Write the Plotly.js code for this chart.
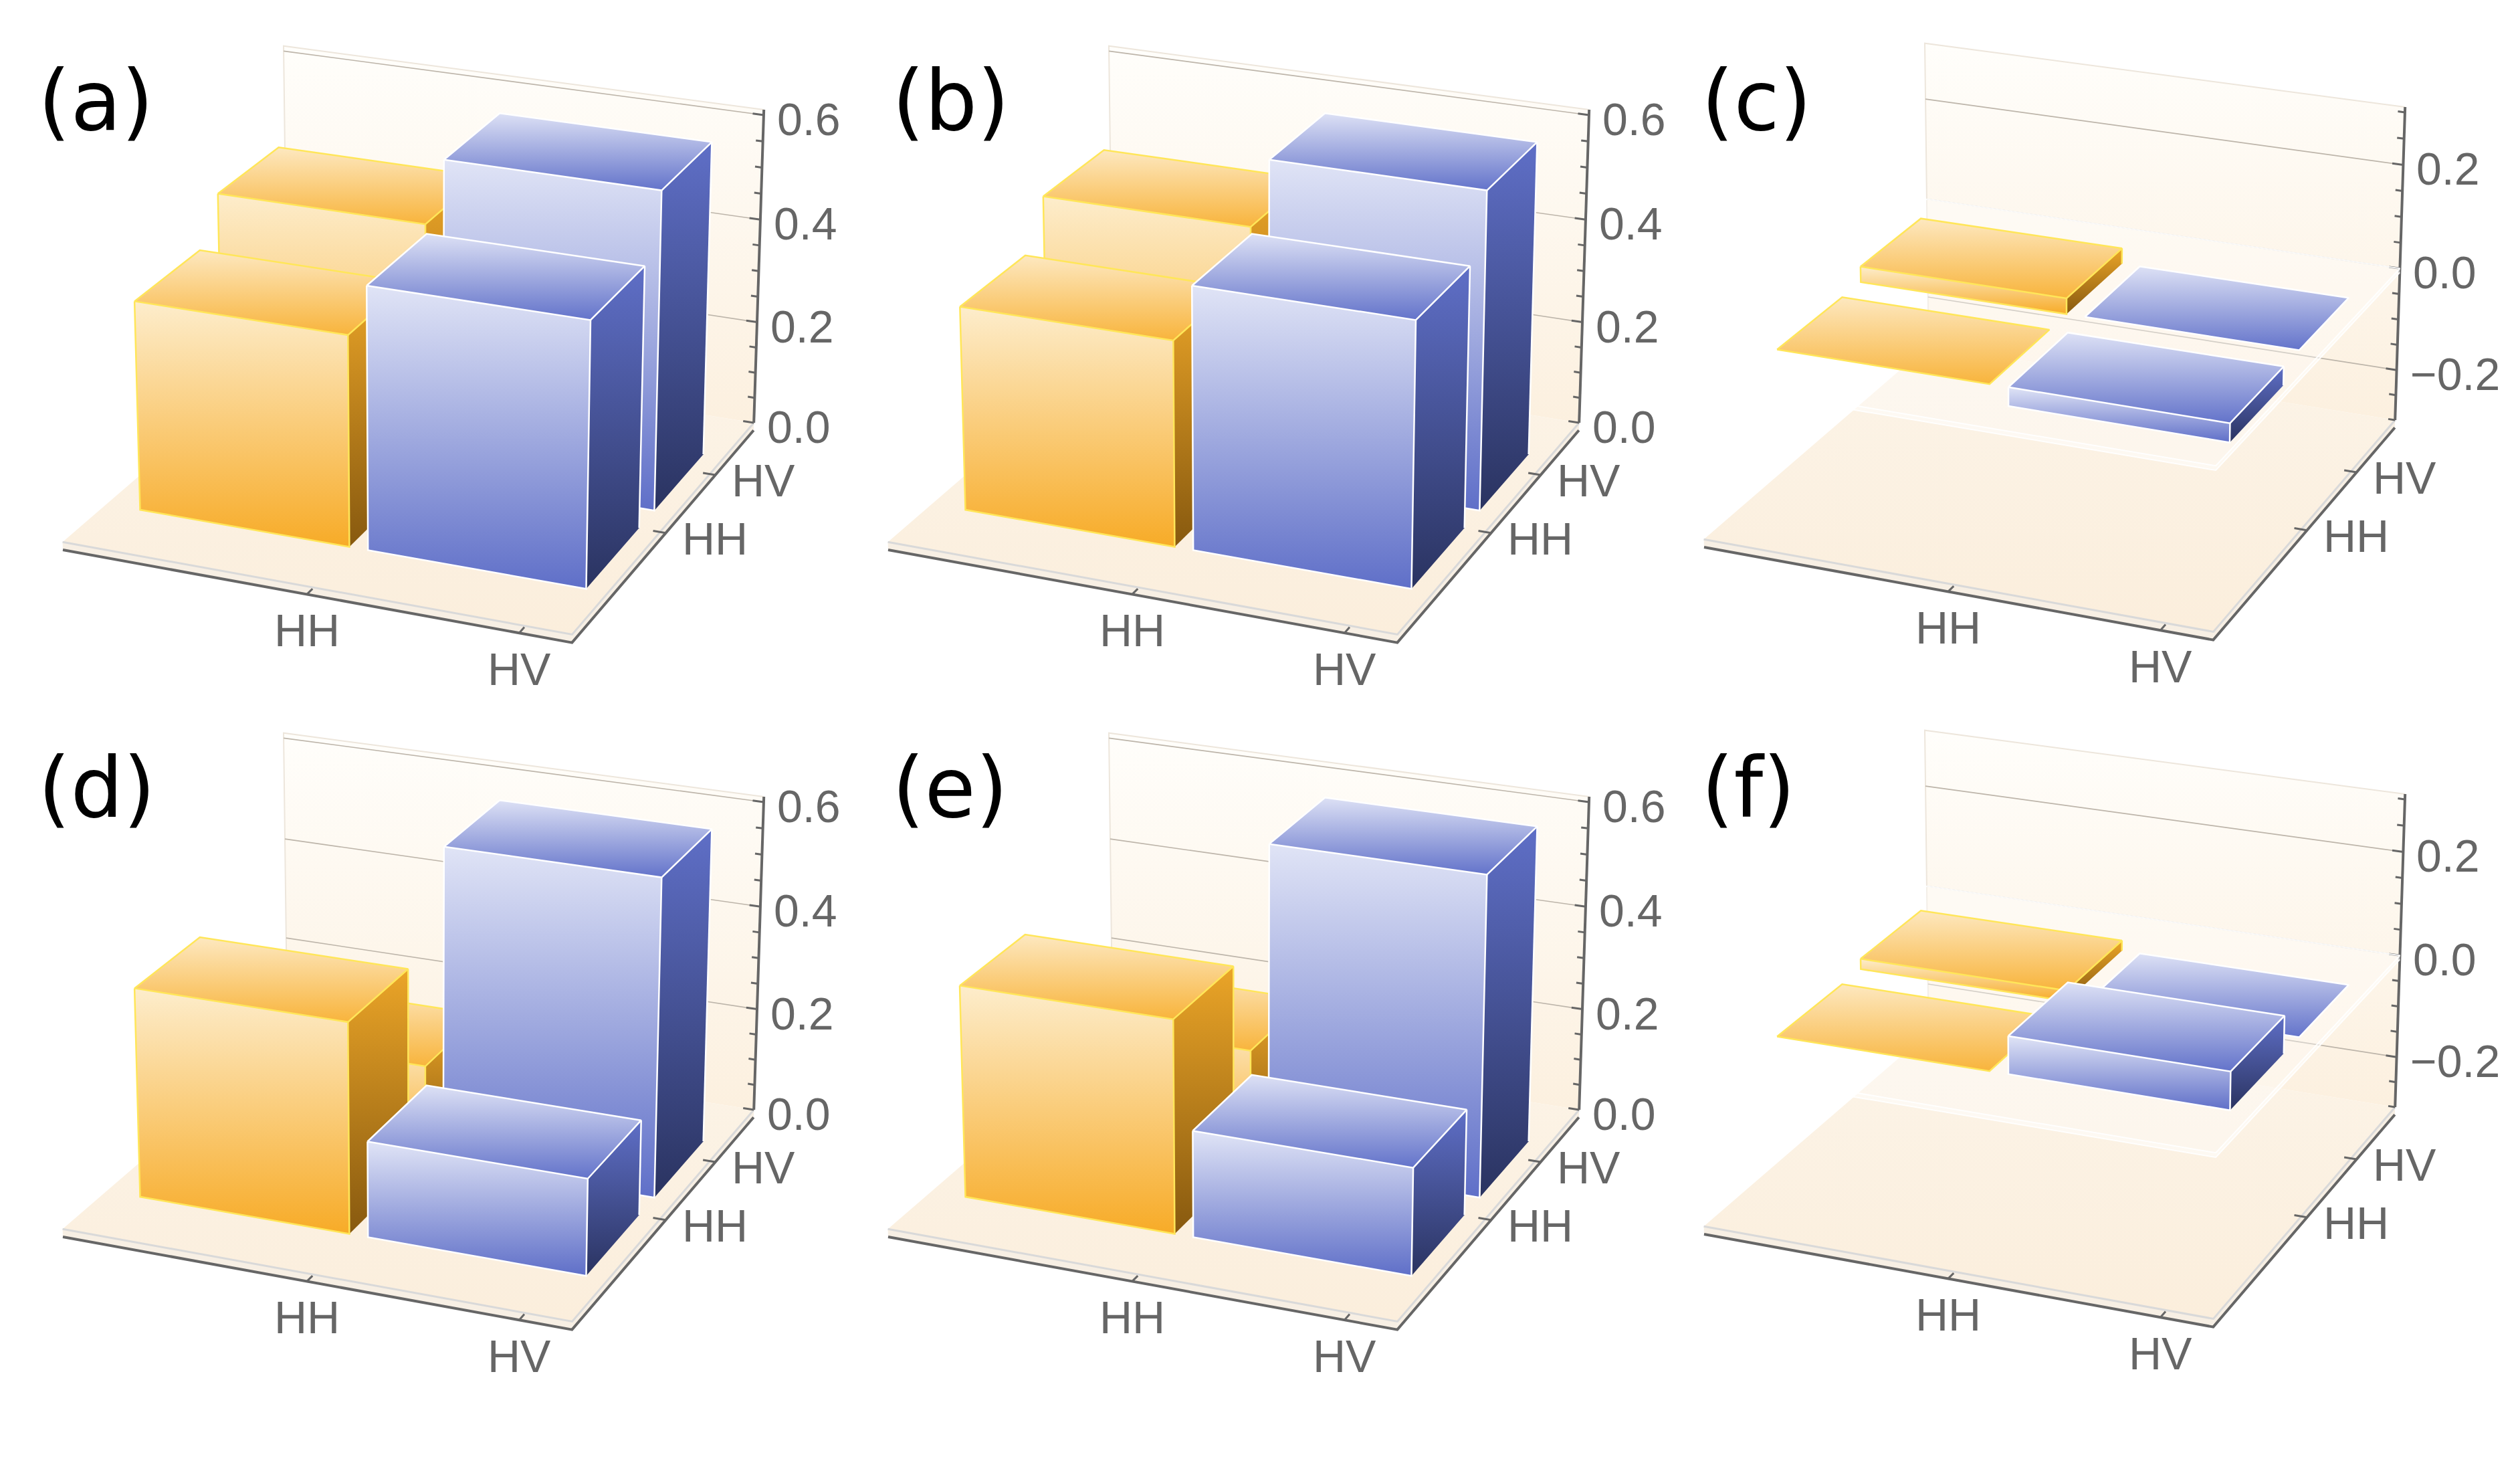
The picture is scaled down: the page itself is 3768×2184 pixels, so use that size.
<!DOCTYPE html>
<html>
<head>
<meta charset="utf-8">
<script src="https://cdn.plot.ly/plotly-3.0.1.min.js"></script>
<style>
  html, body { margin: 0; padding: 0; background: #ffffff; }
  #chart { width: 3768px; height: 2184px; }
</style>
</head>
<body>
<div id="chart"></div>
<script>
// basis labels on both floor axes
const basis = ['HH', 'HV'];
const basisPos = [1, 2];
// where the basis tick marks sit along the floor edges (as in the original figure)
const xTickPos = [1.45, 2.335];
const yTickPos = [1.47, 2.25];
const panelLabels = ['(a)', '(b)', '(c)', '(d)', '(e)', '(f)'];

// matrix elements [row][column]; row = depth axis (front HH, back HV), column = width axis
const realA = [[0.395, 0.49], [0.475, 0.60]];
const realB = [[0.385, 0.49], [0.47, 0.60]];
const imagC = [[0.00, -0.035], [0.03, 0.00]];
const realD = [[0.395, 0.18], [0.18, 0.60]];
const realE = [[0.40, 0.20], [0.21, 0.605]];
const imagF = [[0.00, 0.07], [0.02, 0.00]];

const realTicks = [0, 0.2, 0.4, 0.6];
const realTickText = ['0.0', '0.2', '0.4', '0.6'];
const imagTicks = [-0.2, 0, 0.2];
const imagTickText = ['\u22120.2', '0.0', '0.2'];

const panels = [
  { m: realA, imag: false }, { m: realB, imag: false }, { m: imagC, imag: true },
  { m: realD, imag: false }, { m: realE, imag: false }, { m: imagF, imag: true }
];

// --- view / geometry (Mathematica-like 3D box, drawn by hand projection) ---
const deg = Math.PI / 180;
const view = { phi: -67.5 * deg, theta: 22.1 * deg, dist: 8, focal: 6400 };
const boxRatio = { x: 1, y: 1.01, z: 0.648 };
const xRange = [0.39, 2.55], yRange = [0.115, 2.885];
const realRange = [0, 0.61], imagRange = [-0.3, 0.31];
const barW = 0.92, barD = 0.77;
const slab = 0.016;
// pixel where the front-left bottom corner of each floor lands
const origins = [[94, 822], [1328, 822], [2548, 818], [94, 1849], [1328, 1849], [2548, 1845]];

// gradient stops are [bottom, top] on screen
const palettes = [
  { front: ['#f7ab27', '#fdedcc'], top: ['#f8b43c', '#fde8c0'], side: ['#87590f', '#eba528'], edge: '#ffe659' },
  { front: ['#5f6fc8', '#e0e4f6'], top: ['#6373ca', '#dde1f5'], side: ['#2a3360', '#5f6fc7'], edge: '#ffffff' }
];

const data = [];
const annotations = [];

function dot(a, b) { return a[0] * b[0] + a[1] * b[1] + a[2] * b[2]; }

function makeProjector(zRange, origin) {
  const cp = Math.cos(view.phi), sp = Math.sin(view.phi);
  const ct = Math.cos(view.theta), st = Math.sin(view.theta);
  const d = [ct * cp, ct * sp, st], rt = [-sp, cp, 0], up = [-st * cp, -st * sp, ct];
  function world(x, y, z) {
    return [
      ((x - xRange[0]) / (xRange[1] - xRange[0]) - 0.5) * boxRatio.x,
      ((y - yRange[0]) / (yRange[1] - yRange[0]) - 0.5) * boxRatio.y,
      ((z - zRange[0]) / (zRange[1] - zRange[0]) - 0.5) * boxRatio.z
    ];
  }
  function raw(P) {
    const depth = view.dist - dot(P, d);
    return [view.focal * dot(P, rt) / depth, -view.focal * dot(P, up) / depth, depth];
  }
  const ref = raw([-boxRatio.x / 2, -boxRatio.y / 2, -boxRatio.z / 2 - slab]);
  function projW(P) {
    const r = raw(P);
    return [origin[0] + r[0] - ref[0], origin[1] + r[1] - ref[1], r[2]];
  }
  return { world, projW, proj: (x, y, z) => projW(world(x, y, z)) };
}

function face(pts, fill) {
  const tr = {
    type: 'scatter', mode: 'lines', hoverinfo: 'skip', showlegend: false,
    x: pts.map(p => p[0]).concat([pts[0][0]]),
    y: pts.map(p => p[1]).concat([pts[0][1]]),
    fill: 'toself', line: { width: 0, color: 'rgba(0,0,0,0)' }
  };
  if (Array.isArray(fill)) tr.fillgradient = { type: 'vertical', colorscale: [[0, fill[0]], [1, fill[1]]] };
  else tr.fillcolor = fill;
  data.push(tr);
}

function lines(segs, color, width) {
  const x = [], y = [];
  segs.forEach(s => { s.forEach(p => { x.push(p[0]); y.push(p[1]); }); x.push(null); y.push(null); });
  data.push({ type: 'scatter', mode: 'lines', x, y, hoverinfo: 'skip', showlegend: false,
    connectgaps: false, line: { color, width } });
}

function label(p, text, xanchor, size, color) {
  annotations.push({ x: p[0], y: p[1], xref: 'x', yref: 'y', text, showarrow: false,
    xanchor, yanchor: 'middle',
    font: { family: 'Liberation Sans, Arial, sans-serif', size, color } });
}

panels.forEach((panel, k) => {
  const zr = panel.imag ? imagRange : realRange;
  const ticks = panel.imag ? imagTicks : realTicks;
  const tickText = panel.imag ? imagTickText : realTickText;
  const P = makeProjector(zr, origins[k]);
  const [x0, x1] = xRange, [y0, y1] = yRange, [z0, z1] = zr;
  const W = (x, y, z) => P.world(x, y, z);
  const down = (w) => [w[0], w[1], w[2] - slab];

  // back wall
  face([P.proj(x0, y1, z0), P.proj(x1, y1, z0), P.proj(x1, y1, z1), P.proj(x0, y1, z1)], ['#fcf0df', '#fffefb']);
  // floor top
  face([P.proj(x0, y0, z0), P.proj(x1, y0, z0), P.proj(x1, y1, z0), P.proj(x0, y1, z0)], ['#fbeedc', '#fcf4e8']);
  // floor slab sides
  face([P.projW(down(W(x0, y0, z0))), P.projW(down(W(x1, y0, z0))), P.proj(x1, y0, z0), P.proj(x0, y0, z0)], '#f7efe4');
  face([P.projW(down(W(x1, y0, z0))), P.projW(down(W(x1, y1, z0))), P.proj(x1, y1, z0), P.proj(x1, y0, z0)], '#f7efe4');
  lines([[P.proj(x0, y0, z0), P.proj(x1, y0, z0), P.proj(x1, y1, z0)]], '#d9d9d9', 3);
  // wall outline and grid lines
  lines([[P.proj(x0, y1, z0), P.proj(x0, y1, z1), P.proj(x1, y1, z1)]], '#ede6dc', 2);
  lines(ticks.filter(t => t > z0 + 0.01).map(t => [P.proj(x0, y1, t), P.proj(x1, y1, t)]), '#bdb5aa', 1.6);

  // axes
  const axisCol = '#666666';
  lines([[P.projW(down(W(x0, y0, z0))), P.projW(down(W(x1, y0, z0))), P.projW(down(W(x1, y1, z0)))]], axisCol, 4);
  lines([[P.proj(x1, y1, z0), P.proj(x1, y1, z1)]], axisCol, 4);
  const tk = [];
  basis.forEach((name, i) => {
    const a = down(W(xTickPos[i], y0, z0));
    const pa = P.projW(a);
    tk.push([pa, P.projW([a[0], a[1] + 0.025, a[2]])]);
    label([pa[0], pa[1] + 54], name, 'center', 68, '#666666');
    const b = down(W(x1, yTickPos[i], z0));
    const pb = P.projW(b);
    tk.push([pb, P.projW([b[0] - 0.025, b[1], b[2]])]);
    label([pb[0] + 22, pb[1] + 8], name, 'left', 68, '#666666');
  });
  for (let t = Math.ceil(z0 / 0.05 - 1e-6); t * 0.05 <= z1 + 1e-6; t++) {
    const v = t * 0.05;
    const major = Math.abs(v / 0.2 - Math.round(v / 0.2)) < 1e-6;
    const a = W(x1, y1, v);
    tk.push([P.projW(a), P.projW([a[0] - (major ? 0.022 : 0.014), a[1], a[2]])]);
  }
  lines(tk, axisCol, 3);
  ticks.forEach((t, i) => {
    const a = P.proj(x1, y1, t);
    label([a[0] + 18, a[1] + 6], tickText[i], 'left', 68, '#666666');
  });

  // translucent zero plane for the imaginary parts
  if (panel.imag) {
    const pz = 0.008;
    face([P.proj(x0, y0, -pz), P.proj(x1, y0, -pz), P.proj(x1, y0, 0), P.proj(x0, y0, 0)], 'rgba(255,255,255,0.55)');
    face([P.proj(x1, y0, -pz), P.proj(x1, y1, -pz), P.proj(x1, y1, 0), P.proj(x1, y0, 0)], 'rgba(255,255,255,0.55)');
    face([P.proj(x0, y0, 0), P.proj(x1, y0, 0), P.proj(x1, y1, 0), P.proj(x0, y1, 0)], 'rgba(255,255,255,0.35)');
    lines([[P.proj(x0, y1, 0), P.proj(x0, y0, 0), P.proj(x1, y0, 0), P.proj(x1, y1, 0), P.proj(x0, y1, 0)],
           [P.proj(x0, y0, -pz), P.proj(x1, y0, -pz), P.proj(x1, y1, -pz)]], 'rgba(255,255,255,0.9)', 2);
  }

  // bars, farthest first
  const bars = [];
  for (let r = 0; r < 2; r++) for (let c = 0; c < 2; c++) {
    const v = panel.m[r][c];
    const cx = basisPos[c], cy = basisPos[r];
    bars.push({ c, v, cx, cy, depth: P.proj(cx, cy, 0)[2] });
  }
  bars.sort((a, b) => b.depth - a.depth);
  bars.forEach(b => {
    const pal = palettes[b.c];
    const bx0 = b.cx - barW / 2, bx1 = b.cx + barW / 2;
    const by0 = b.cy - barD / 2, by1 = b.cy + barD / 2;
    const zb = Math.min(0, b.v), ztop = Math.max(0, b.v);
    const q = (x, y, z) => P.proj(x, y, z);
    const F = [q(bx0, by0, zb), q(bx1, by0, zb), q(bx1, by0, ztop), q(bx0, by0, ztop)];
    const R = [q(bx1, by0, zb), q(bx1, by1, zb), q(bx1, by1, ztop), q(bx1, by0, ztop)];
    const T = [q(bx0, by0, ztop), q(bx1, by0, ztop), q(bx1, by1, ztop), q(bx0, by1, ztop)];
    if (ztop - zb > 1e-6) {
      face(F, pal.front);
      face(R, pal.side);
    }
    face(T, pal.top);
    const segs = [[T[0], T[1], T[2], T[3], T[0]]];
    if (ztop - zb > 1e-6) segs.push([F[3], F[0], F[1], F[2]], [R[1], R[2]]);
    lines(segs, pal.edge, 2.5);
  });

  annotations.push({
    text: panelLabels[k], xref: 'paper', yref: 'paper',
    x: [0.0145, 0.3535, 0.6745][k % 3], y: [0.931, 0.4605][Math.floor(k / 3)],
    xanchor: 'left', yanchor: 'middle', showarrow: false,
    font: { family: 'DejaVu Sans, sans-serif', size: 124, color: '#000000' }
  });
});

const layout = {
  width: 3768, height: 2184,
  paper_bgcolor: '#ffffff', plot_bgcolor: '#ffffff',
  margin: { l: 0, r: 0, t: 0, b: 0 },
  showlegend: false,
  xaxis: { range: [0, 3768], visible: false, fixedrange: true },
  yaxis: { range: [2184, 0], visible: false, fixedrange: true },
  annotations
};

Plotly.newPlot('chart', data, layout, { displayModeBar: false, staticPlot: true });
</script>
</body>
</html>
